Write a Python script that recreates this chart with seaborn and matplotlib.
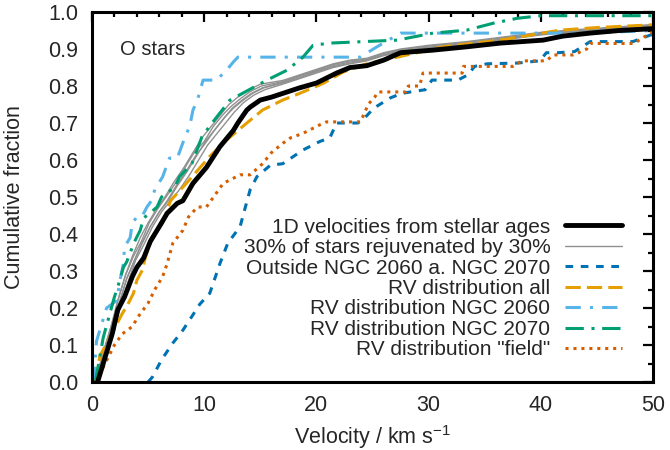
import matplotlib
matplotlib.use("Agg")
import matplotlib.pyplot as plt
import seaborn as sns

# cumulative distributions (velocity in km/s, cumulative fraction)
ages_v = [0.5, 1.2, 1.8, 2.3, 2.9, 3.6, 4.0, 4.6, 5.2, 6.0, 6.7, 7.6, 8.1, 9.0, 10.2, 11.4, 12.6, 13.0,
          13.8, 14.1, 15.0, 16.0, 17.0, 18.5, 20.0, 21.8, 23.0, 24.5, 26.0, 27.5, 30.4, 33.4, 36.4, 40.2,
          42.0, 44.4, 47.0, 50.0]
ages_f = [0.0, 0.07, 0.13, 0.195, 0.23, 0.285, 0.31, 0.335, 0.38, 0.42, 0.456, 0.483, 0.49, 0.537, 0.58,
          0.636, 0.68, 0.70, 0.735, 0.743, 0.762, 0.77, 0.78, 0.795, 0.808, 0.835, 0.85, 0.855, 0.87, 0.89,
          0.897, 0.906, 0.916, 0.924, 0.935, 0.943, 0.95, 0.955]

rejuv_v = [
    [0.3, 1.0, 1.8, 2.4, 3.0, 3.6, 4.3, 5.0, 5.8, 6.5, 7.3, 8.2, 9.0, 9.8, 10.6, 11.4, 12.2, 13.0, 14.0,
     15.0, 17.0, 18.5, 20.0, 21.5, 23.0, 24.5, 26.0, 27.5, 30.0, 33.4, 36.0, 40.0, 43.0, 47.0, 50.0],
    [0.4, 1.1, 1.9, 2.5, 3.1, 3.8, 4.5, 5.2, 6.0, 6.8, 7.6, 8.5, 9.3, 10.1, 10.9, 11.7, 12.5, 13.3, 14.2,
     15.2, 17.0, 18.5, 20.0, 21.5, 23.0, 24.5, 26.0, 27.5, 30.0, 33.4, 36.0, 40.0, 43.0, 47.0, 50.0],
    [0.3, 1.0, 1.7, 2.3, 3.0, 3.7, 4.4, 5.1, 5.9, 6.6, 7.5, 8.3, 9.1, 10.0, 10.8, 11.6, 12.4, 13.2, 14.1,
     15.1, 17.0, 18.5, 20.0, 21.5, 23.0, 24.5, 26.0, 27.5, 30.0, 33.4, 36.0, 40.0, 43.0, 47.0, 50.0],
    [0.4, 1.2, 2.0, 2.6, 3.2, 3.9, 4.6, 5.4, 6.2, 7.0, 7.8, 8.7, 9.5, 10.3, 11.1, 11.9, 12.7, 13.5, 14.4,
     15.4, 17.0, 18.5, 20.0, 21.5, 23.0, 24.5, 26.0, 27.5, 30.0, 33.4, 36.0, 40.0, 43.0, 47.0, 50.0],
    [0.3, 1.1, 1.8, 2.4, 3.1, 3.8, 4.4, 5.2, 6.0, 6.7, 7.5, 8.4, 9.2, 10.1, 10.9, 11.8, 12.6, 13.4, 14.3,
     15.3, 17.0, 18.5, 20.0, 21.5, 23.0, 24.5, 26.0, 27.5, 30.0, 33.4, 36.0, 40.0, 43.0, 47.0, 50.0],
]
rejuv_f = [
    [0.0, 0.08, 0.16, 0.23, 0.29, 0.34, 0.39, 0.43, 0.47, 0.50, 0.54, 0.58, 0.62, 0.66, 0.69, 0.72, 0.75,
     0.77, 0.79, 0.805, 0.815, 0.83, 0.845, 0.86, 0.87, 0.875, 0.89, 0.90, 0.91, 0.92, 0.93, 0.945, 0.952,
     0.96, 0.966],
    [0.0, 0.07, 0.15, 0.22, 0.28, 0.33, 0.38, 0.42, 0.46, 0.49, 0.53, 0.57, 0.61, 0.65, 0.68, 0.71, 0.74,
     0.76, 0.78, 0.795, 0.81, 0.825, 0.84, 0.855, 0.865, 0.87, 0.885, 0.895, 0.905, 0.915, 0.925, 0.94,
     0.948, 0.957, 0.963],
    [0.0, 0.08, 0.15, 0.22, 0.29, 0.34, 0.38, 0.43, 0.47, 0.50, 0.54, 0.58, 0.62, 0.65, 0.69, 0.72, 0.745,
     0.765, 0.785, 0.80, 0.812, 0.828, 0.842, 0.858, 0.868, 0.872, 0.888, 0.898, 0.908, 0.918, 0.928,
     0.942, 0.95, 0.958, 0.965],
    [0.0, 0.07, 0.15, 0.21, 0.27, 0.33, 0.37, 0.42, 0.46, 0.49, 0.52, 0.56, 0.60, 0.64, 0.67, 0.70, 0.73,
     0.755, 0.775, 0.79, 0.805, 0.82, 0.835, 0.85, 0.86, 0.868, 0.882, 0.892, 0.902, 0.912, 0.922, 0.938,
     0.946, 0.955, 0.962],
    [0.0, 0.07, 0.14, 0.21, 0.28, 0.33, 0.37, 0.42, 0.46, 0.49, 0.53, 0.57, 0.61, 0.645, 0.68, 0.715, 0.74,
     0.76, 0.78, 0.795, 0.808, 0.822, 0.838, 0.852, 0.862, 0.87, 0.884, 0.894, 0.904, 0.914, 0.924, 0.94,
     0.947, 0.956, 0.962],
]

outside_v = [5.0, 5.4, 6.2, 7.2, 8.1, 8.9, 9.6, 10.5, 11.4, 12.1, 13.2, 13.6, 14.1, 14.7, 15.9, 17.0, 18.8,
             20.3, 21.2, 21.8, 23.7, 24.5, 25.1, 25.8, 26.6, 27.6, 28.6, 29.7, 30.3, 32.6, 33.5, 34.1, 35.2,
             37.9, 38.9, 39.9, 40.5, 41.5, 43.0, 44.4, 48.2, 49.7, 50.0]
outside_f = [0.0, 0.014, 0.06, 0.105, 0.14, 0.177, 0.21, 0.24, 0.32, 0.375, 0.42, 0.465, 0.52, 0.555, 0.586,
             0.59, 0.627, 0.65, 0.66, 0.70, 0.70, 0.72, 0.74, 0.753, 0.768, 0.78, 0.785, 0.79, 0.816, 0.816,
             0.83, 0.853, 0.86, 0.862, 0.865, 0.868, 0.89, 0.89, 0.893, 0.92, 0.92, 0.937, 0.94]

all_v = [0.3, 0.7, 1.4, 2.7, 3.2, 3.7, 4.0, 4.5, 4.7, 5.3, 6.3, 7.0, 8.5, 10.5, 12.0, 13.8, 15.2, 17.0, 18.5,
         20.6, 22.4, 24.5, 27.5, 31.3, 36.4, 41.7, 45.0, 49.7, 50.0]
all_f = [0.0, 0.07, 0.11, 0.185, 0.21, 0.24, 0.275, 0.303, 0.33, 0.39, 0.43, 0.49, 0.54, 0.61, 0.654, 0.70,
         0.735, 0.762, 0.78, 0.807, 0.838, 0.86, 0.88, 0.906, 0.924, 0.951, 0.958, 0.965, 0.966]

n2060_v = [0.2, 0.3, 0.4, 1.3, 2.2, 2.5, 2.8, 2.9, 3.4, 3.6, 4.1, 4.5, 4.9, 5.3, 5.6, 6.3, 6.9, 7.6, 8.3,
           8.7, 9.0, 9.4, 9.9, 11.1, 12.0, 12.6, 13.0, 23.9, 25.4, 27.5, 44.0, 50.0]
n2060_f = [0.0, 0.07, 0.11, 0.20, 0.22, 0.275, 0.32, 0.365, 0.39, 0.43, 0.45, 0.45, 0.473, 0.49, 0.52, 0.555,
           0.605, 0.605, 0.663, 0.69, 0.735, 0.762, 0.816, 0.816, 0.843, 0.865, 0.878, 0.878, 0.906, 0.943,
           0.943, 0.95]

n2070_v = [0.3, 1.0, 2.0, 2.3, 2.8, 3.1, 3.6, 3.8, 4.3, 4.6, 5.3, 5.8, 6.2, 7.4, 7.8, 8.9, 9.8, 10.7, 12.3,
           15.6, 17.4, 18.8, 19.7, 21.2, 27.2, 30.4, 33.4, 35.8, 37.9, 40.0, 50.0]
n2070_f = [0.0, 0.12, 0.23, 0.257, 0.31, 0.325, 0.365, 0.38, 0.41, 0.443, 0.46, 0.473, 0.50, 0.527, 0.555,
           0.59, 0.663, 0.70, 0.762, 0.816, 0.843, 0.878, 0.91, 0.916, 0.924, 0.943, 0.951, 0.97, 0.983,
           0.99, 0.99]

field_v = [0.3, 1.0, 1.5, 2.0, 2.7, 3.6, 4.1, 5.0, 5.6, 6.3, 6.7, 7.2, 8.1, 8.6, 9.4, 10.2, 11.7, 13.2, 14.1,
           15.2, 16.0, 17.0, 17.7, 18.8, 20.3, 20.9, 23.9, 24.3, 24.6, 25.2, 25.5, 28.0, 28.2, 29.2, 29.5,
           33.0, 33.1, 37.5, 38.3, 40.5, 41.1, 42.9, 44.1, 44.4, 48.3, 49.1, 49.7, 50.0]
field_f = [0.0, 0.04, 0.07, 0.10, 0.13, 0.15, 0.176, 0.213, 0.25, 0.285, 0.32, 0.375, 0.41, 0.446, 0.473,
           0.473, 0.537, 0.56, 0.56, 0.59, 0.62, 0.645, 0.66, 0.672, 0.695, 0.703, 0.703, 0.727, 0.75, 0.77,
           0.784, 0.784, 0.80, 0.80, 0.835, 0.835, 0.853, 0.853, 0.868, 0.868, 0.884, 0.884, 0.90, 0.915,
           0.915, 0.93, 0.943, 0.945]

labels = ['1D velocities from stellar ages', '30% of stars rejuvenated by 30%',
          'Outside NGC 2060 a. NGC 2070', 'RV distribution all', 'RV distribution NGC 2060',
          'RV distribution NGC 2070', 'RV distribution "field"']

sns.set_theme(style="white")
plt.rcParams['font.family'] = ['Liberation Sans', 'DejaVu Sans']
plt.rcParams['mathtext.fontset'] = 'custom'
plt.rcParams['mathtext.rm'] = 'Liberation Sans'

fs = 15.5

fig = plt.figure(figsize=(6.7, 4.5), dpi=100)
ax = fig.add_axes([0.1373, 0.1511, 0.8373, 0.8222])

for i, (v, f) in enumerate(zip(rejuv_v, rejuv_f)):
    sns.lineplot(x=v, y=f, ax=ax, color='#909090', lw=1.0, estimator=None, sort=False,
                 label=labels[1] if i == 0 else None)
sns.lineplot(x=outside_v, y=outside_f, ax=ax, color='#0072b2', lw=2.2, estimator=None, sort=False,
             linestyle=(0, (2.5, 2.5)), label=labels[2])
sns.lineplot(x=all_v, y=all_f, ax=ax, color='#e69f00', lw=2.2, estimator=None, sort=False,
             linestyle=(0, (5, 2)), label=labels[3])
sns.lineplot(x=n2060_v, y=n2060_f, ax=ax, color='#56b4e9', lw=2.2, estimator=None, sort=False,
             linestyle=(0, (5, 3, 1, 3)), label=labels[4])
sns.lineplot(x=n2070_v, y=n2070_f, ax=ax, color='#009e73', lw=2.2, estimator=None, sort=False,
             linestyle=(0, (6, 2.5, 1, 2.5)), label=labels[5])
sns.lineplot(x=field_v, y=field_f, ax=ax, color='#d55e00', lw=2.2, estimator=None, sort=False,
             linestyle=(0, (1, 1.6)), label=labels[6])
sns.lineplot(x=ages_v, y=ages_f, ax=ax, color='black', lw=3.5, estimator=None, sort=False,
             label=labels[0])

ax.set_xlim(0, 50)
ax.set_ylim(0, 1)
ax.set_xticks([0, 10, 20, 30, 40, 50])
ax.set_xticks(range(0, 51, 2), minor=True)
ax.set_yticks([i / 10 for i in range(11)])
ax.set_yticks([i / 20 for i in range(21)], minor=True)
ax.set_yticklabels([f'{i / 10:.1f}' for i in range(11)])
ax.tick_params(which='both', direction='in', top=True, right=True, labelsize=fs, width=1.6,
               color='black')
ax.tick_params(axis='y', pad=10)
ax.tick_params(axis='x', pad=9)
ax.tick_params(which='major', length=7)
ax.tick_params(which='minor', length=3.5)
for s in ax.spines.values():
    s.set_linewidth(2.2)
    s.set_color('black')

ax.set_xlabel('Velocity / km s$^{-1}$', fontsize=fs)
ax.set_ylabel('Cumulative fraction', fontsize=fs)
ax.xaxis.set_label_coords(0.5, -0.112)
ax.yaxis.set_label_coords(-0.12, 0.5)
ax.text(2.5, 0.90, 'O stars', fontsize=14.5, va='center', ha='left')

h, l = ax.get_legend_handles_labels()
order = [l.index(t) for t in labels]
leg = ax.legend([h[i] for i in order], [l[i] for i in order], loc='lower right',
                bbox_to_anchor=(0.964, 0.033), frameon=False, markerfirst=False, fontsize=15.0,
                handlelength=2.75, handletextpad=0.7, labelspacing=0.07, borderpad=0)

fig.savefig('out.png', dpi=100)
